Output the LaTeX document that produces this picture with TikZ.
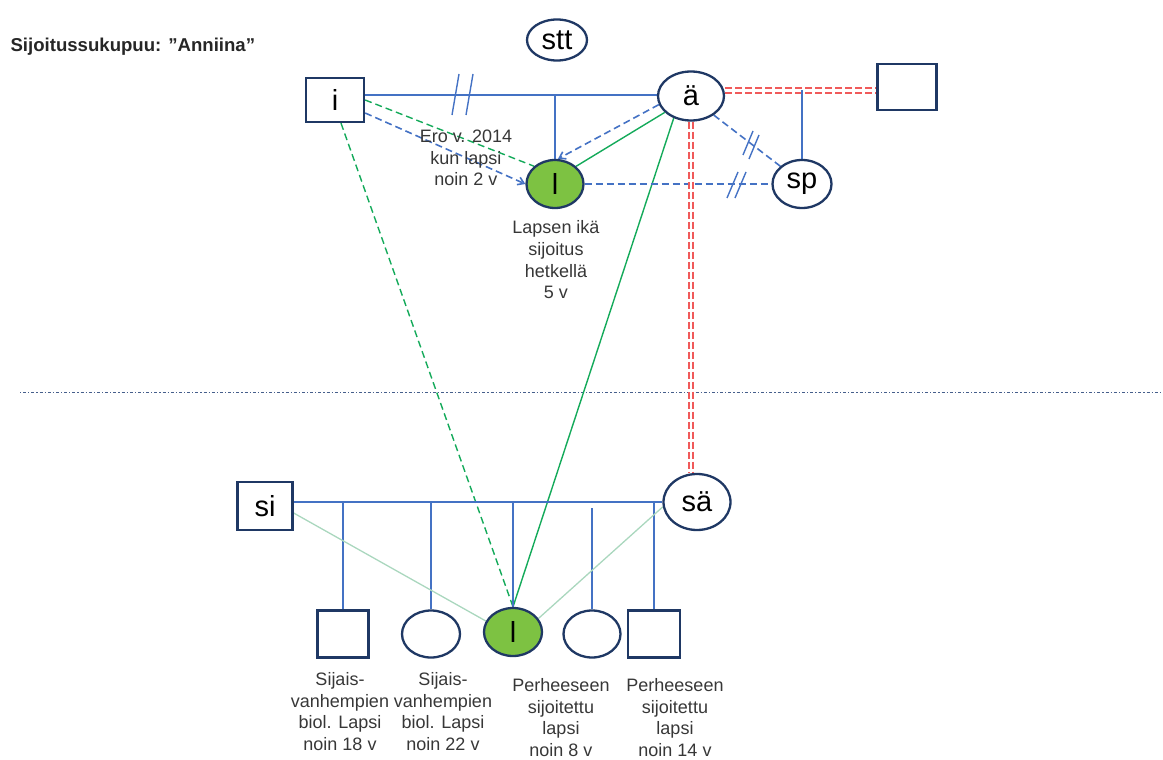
\documentclass[tikz,border=0pt]{standalone}
\usepackage{fontspec}
\setmainfont{Liberation Sans}
\usetikzlibrary{shapes.geometric,arrows.meta,calc,backgrounds}
\definecolor{navy}{RGB}{31,56,100}
\definecolor{lblue}{RGB}{68,114,196}
\definecolor{kgreen}{RGB}{125,194,66}
\definecolor{lgreen}{RGB}{20,170,90}
\definecolor{pgreen}{RGB}{170,215,190}
\definecolor{rred}{RGB}{240,90,90}
\definecolor{txt}{RGB}{55,55,55}
\definecolor{dotc}{RGB}{70,95,140}
\begin{document}
\begin{tikzpicture}[x=1pt,y=-1pt,
 person/.style={draw=navy,line width=2.3pt,inner sep=0pt,fill=white,font=\fontsize{29}{32}\selectfont},
 male/.style={person,rectangle},
 female/.style={person,ellipse},
 kid/.style={female,fill=kgreen},
 rel/.style={draw=lblue,line width=1.6pt},
 brk/.style={rel,dash pattern=on 7pt off 4pt},
 arr/.style={-{Straight Barb[length=6pt,width=8pt]}},
 gline/.style={draw=lgreen,line width=1.4pt},
 gdash/.style={gline,dash pattern=on 7pt off 4pt},
 pline/.style={draw=pgreen,line width=1.3pt},
 redd/.style={draw=rred,double=white,double distance=2.6pt,line width=1.9pt,dash pattern=on 7pt off 3pt},
 lab/.style={align=center,text=txt,font=\fontsize{18}{21.7}\selectfont},
 slash/.style={draw=lblue,line width=1.4pt}]
\useasboundingbox (0,0) rectangle (1163,760);

% title
\node[anchor=west,font=\bfseries\fontsize{18.6}{20}\selectfont,text=black!85] (title) at (7,47) {Sijoitussukupuu: ”Anniina”};

% persons
\node[female,minimum width=60pt,minimum height=41pt] (stt) at (557,40) {stt};
\node[male,minimum width=58pt,minimum height=44pt] (i) at (335,100) {i};
\node[female,minimum width=66pt,minimum height=49pt] (a) at (691,96) {ä};
\node[male,minimum width=59pt,minimum height=46pt] (r) at (907,87) {};
\node[female,minimum width=59pt,minimum height=48pt] (sp) at (802,184) {sp};
\node[kid,minimum width=57pt,minimum height=48pt] (l1) at (555,184) {l};

\node[male,minimum width=55pt,minimum height=48pt] (si) at (265,506) {si};
\node[female,minimum width=67pt,minimum height=56pt] (sa) at (697,502) {sä};

\node[male,minimum width=51pt,minimum height=47pt] (c1) at (343,634) {};
\node[female,minimum width=58pt,minimum height=47pt] (c2) at (431,634) {};
\node[kid,minimum width=58pt,minimum height=48pt] (l2) at (513,632) {l};
\node[female,minimum width=57pt,minimum height=47pt] (c4) at (592,634) {};
\node[male,minimum width=52pt,minimum height=47pt] (c5) at (654,634) {};

% labels
\node[lab] (ero) at (466,158) {Ero v. 2014\\kun lapsi\\noin 2 v};
\node[lab] (ika) at (556,260) {Lapsen ikä\\sijoitus\\hetkellä\\5 v};
\node[lab,anchor=north] (t1) at (340,669) {Sijais-\\vanhempien\\biol. Lapsi\\noin 18 v};
\node[lab,anchor=north] (t2) at (443,669) {Sijais-\\vanhempien\\biol. Lapsi\\noin 22 v};
\node[lab,anchor=north] (t3) at (561,675) {Perheeseen\\sijoitettu\\lapsi\\noin 8 v};
\node[lab,anchor=north] (t4) at (675,675) {Perheeseen\\sijoitettu\\lapsi\\noin 14 v};

% coordinates
\coordinate (m1) at (555,95);
\coordinate (rr) at (802,90.5);
\coordinate (hl) at (513,502);
\coordinate (dl) at (20,392);
\coordinate (dr) at (1163,392);

\begin{pgfonlayer}{background}
% dotted separator
\draw[draw=dotc,line width=0.9pt,dash pattern=on 1.2pt off 2pt on 3pt off 2pt] (dl) -- (dr);

% i - ä relation
\draw[rel] (i.east |- m1) -- (a.west |- m1);
\draw[rel] (m1) -- (l1.north);
\draw[slash] (452,115) -- (459,74);
\draw[slash] (466,115) -- (473,74);

% i -> l1
\draw[gdash] (i.east) -- (l1.north west);
\draw[brk,arr] ([yshift=-13pt]i.east) -- (l1.west);
% ä -> l1
\draw[brk,arr] (a.195) -- ([xshift=3pt]l1.north);
\draw[gline] (a.212) -- (l1.40);
\draw[gline] (a.232) -- (l2.north);

% l1 - sp
\draw[brk] (l1.east) -- (sp.west);
\draw[slash] (727,198) -- (738,172);
\draw[slash] (735,198) -- (746,172);
% ä - sp
\draw[brk] (a.-40) -- (sp.north west);
\draw[slash] (743,155) -- (753,131);
\draw[slash] (749,159) -- (759,135);

% ä = r
\draw[redd] (a.east |- rr) -- (r.west |- rr);
\draw[rel] (rr) -- (sp.north);

% ä = sä
\draw[redd] (a.south) -- (a.south |- sa.north);

% i -> l2
\draw[gdash] ([xshift=6pt]i.south) -- (l2.north);

% foster family
\draw[rel] (si.east |- hl) -- (sa.west |- hl);
\draw[rel] (c1.north |- hl) -- (c1.north);
\draw[rel] (c2.north |- hl) -- (c2.north);
\draw[rel] (hl) -- (l2.north);
\draw[rel] ([yshift=-6pt]c4.north |- hl) -- (c4.north);
\draw[rel] (c5.north |- hl) -- (c5.north);
\draw[pline] ([yshift=-7pt]si.east) -- (l2.158);
\draw[pline] (sa.188) -- (l2.28);
\end{pgfonlayer}
\end{tikzpicture}
\end{document}
